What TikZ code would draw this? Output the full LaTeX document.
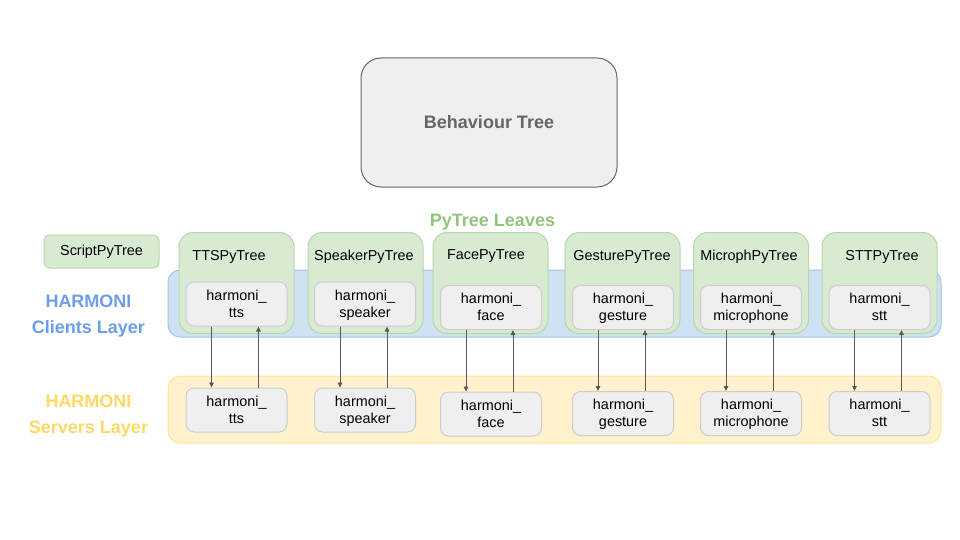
\documentclass[tikz,border=0pt]{standalone}
\usepackage{fontspec}
\setmainfont{Liberation Sans}
\usepackage{tikz}
\usetikzlibrary{arrows.meta}
\usepackage{xcolor}

\definecolor{leafgreen}{HTML}{D9EAD3}
\definecolor{leafedge}{HTML}{B6D7A8}
\definecolor{boxgray}{HTML}{EFEFEF}
\definecolor{boxedge}{HTML}{CCCCCC}
\definecolor{clientblue}{HTML}{CFE2F3}
\definecolor{clientedge}{HTML}{A4C2F4}
\definecolor{servyellow}{HTML}{FFF2CC}
\definecolor{servedge}{HTML}{FFE599}
\definecolor{titlegreen}{HTML}{93C47D}
\definecolor{titleblue}{HTML}{6D9EEB}
\definecolor{titleyellow}{HTML}{FFD966}
\definecolor{darkgray}{HTML}{666666}
\definecolor{arrowgray}{HTML}{595959}

\begin{document}
\begin{tikzpicture}[x=1pt,y=-1pt,
		every node/.style={font=\fontsize{14.4}{17}\selectfont, inner sep=0pt},
		leaf/.style={draw=leafedge, fill=leafgreen, line width=1pt,
			rounded corners=14pt, minimum width=115pt, minimum height=101pt},
		harmbox/.style={draw=boxedge, fill=boxgray, line width=1pt,
			rounded corners=8pt, minimum width=101pt, minimum height=44pt,
			align=center, text depth=1pt},
		layer/.style={line width=1pt, rounded corners=12pt,
			minimum width=773pt, minimum height=67pt},
		title/.style={font=\fontsize{18}{26}\selectfont\bfseries, align=center},
		link/.style={draw=arrowgray, line width=0.9pt,
			-{Triangle[length=5pt,width=4.5pt]}}]
	
		\useasboundingbox (0,0) rectangle (960,540);
	
		% behaviour tree
		\node[draw=darkgray, fill=boxgray, line width=1pt, rounded corners=20pt,
			minimum width=256pt, minimum height=129pt, text=darkgray,
			font=\fontsize{18}{22}\selectfont\bfseries] (bt) at (489,122.5)
			{Behaviour Tree};
	
		% layers
		\node[layer, draw=clientedge, fill=clientblue] (clients) at (554.5,303.5) {};
		\node[layer, draw=servedge, fill=servyellow] (servers) at (554.5,409.5) {};
	
		\node[title, text=titlegreen] (leaves) at (492.5,222) {PyTree Leaves};
		\node[title, text=titleblue] (clientname) at (88.5,316)
			{HARMONI\\Clients Layer};
		\node[title, text=titleyellow] (servername) at (88.5,416.5)
			{HARMONI\\Servers Layer};
	
		\node[draw=leafedge, fill=leafgreen, line width=1pt, rounded corners=6pt,
			minimum width=115pt, minimum height=33pt] (script) at (101.5,251.5)
			{ScriptPyTree};
	
		% pytree leaves
		\node[leaf] (tts) at (236.5,283) {};
		\node[leaf] (speaker) at (365.5,283) {};
		\node[leaf] (face) at (490.5,283) {};
		\node[leaf] (gesture) at (622.5,283) {};
		\node[leaf] (microph) at (751,283) {};
		\node[leaf] (stt) at (879.5,283) {};
	
		\node (ttsname) at (229,256.5) {TTSPyTree};
		\node (speakername) at (364,256.5) {SpeakerPyTree};
		\node (facename) at (486,256.5) {FacePyTree};
		\node (gesturename) at (622,256.5) {GesturePyTree};
		\node (microphname) at (749,256.5) {MicrophPyTree};
		\node (sttname) at (882,256.5) {STTPyTree};
	
		% clients
		\node[harmbox] (ttsc) at (236.5,304) {harmoni\_\\tts};
		\node[harmbox] (speakerc) at (365,304) {harmoni\_\\speaker};
		\node[harmbox] (facec) at (491,307.5) {harmoni\_\\face};
		\node[harmbox] (gesturec) at (623,307.5) {harmoni\_\\gesture};
		\node[harmbox] (microphc) at (751,307.5) {harmoni\_\\microphone};
		\node[harmbox] (sttc) at (879.5,307.5) {harmoni\_\\stt};
	
		% servers
		\node[harmbox] (ttss) at (236.5,410) {harmoni\_\\tts};
		\node[harmbox] (speakers) at (365,410) {harmoni\_\\speaker};
		\node[harmbox] (faces) at (491,414) {harmoni\_\\face};
		\node[harmbox] (gestures) at (623,413.5) {harmoni\_\\gesture};
		\node[harmbox] (microphs) at (751,413.5) {harmoni\_\\microphone};
		\node[harmbox] (stts) at (879.5,413.5) {harmoni\_\\stt};
	
		% requests and replies
		\draw[link] ([xshift=-25pt]ttsc.south) -- ([xshift=-25pt]ttss.north);
		\draw[link] ([xshift=22pt]ttss.north) -- ([xshift=22pt]ttsc.south);
		\draw[link] ([xshift=-25pt]speakerc.south) -- ([xshift=-25pt]speakers.north);
		\draw[link] ([xshift=22pt]speakers.north) -- ([xshift=22pt]speakerc.south);
		\draw[link] ([xshift=-25pt]facec.south) -- ([xshift=-25pt]faces.north);
		\draw[link] ([xshift=22pt]faces.north) -- ([xshift=22pt]facec.south);
		\draw[link] ([xshift=-25pt]gesturec.south) -- ([xshift=-25pt]gestures.north);
		\draw[link] ([xshift=22pt]gestures.north) -- ([xshift=22pt]gesturec.south);
		\draw[link] ([xshift=-25pt]microphc.south) -- ([xshift=-25pt]microphs.north);
		\draw[link] ([xshift=22pt]microphs.north) -- ([xshift=22pt]microphc.south);
		\draw[link] ([xshift=-25pt]sttc.south) -- ([xshift=-25pt]stts.north);
		\draw[link] ([xshift=22pt]stts.north) -- ([xshift=22pt]sttc.south);
	\end{tikzpicture}
\end{document}
